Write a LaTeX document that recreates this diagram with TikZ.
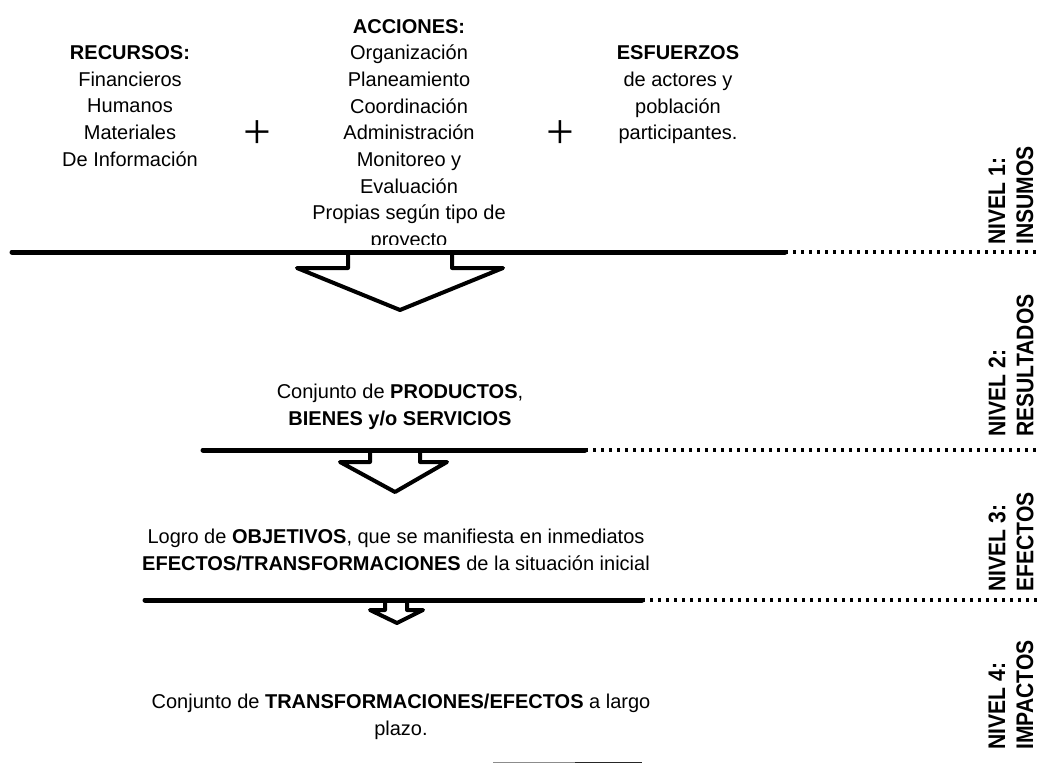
\documentclass[tikz,border=0pt]{standalone}
\usepackage{fontspec}
\setmainfont{Liberation Sans}
\newfontfamily\lvlfont[FakeStretch=0.88]{Liberation Sans}
\newfontfamily\plusfont{Liberation Serif}
\begin{document}
\begin{tikzpicture}[x=0.75pt,y=-0.75pt,
  txt/.style={align=center, inner sep=0pt, font=\fontsize{15}{20}\selectfont},
  lvl/.style={rotate=90, anchor=west, align=left, inner sep=0pt, font=\lvlfont\bfseries\fontsize{18}{21}\selectfont},
  solidln/.style={line width=3.75pt, line cap=round},
  dotln/.style={line width=2.6pt, dash pattern=on 2.2pt off 3.8pt},
  arrowshape/.style={line width=3pt, line join=round},
  plussign/.style={inner sep=0pt, font=\plusfont\fontsize{37}{37}\selectfont}]
\useasboundingbox (0,0) rectangle (1038,763);

% top blocks
\node[txt] (rec) at (130,106) {\textbf{RECURSOS:}\\Financieros\\Humanos\\Materiales\\De Información};
\node[plussign] (p1) at (257,135) {+};
\begin{scope}
\clip (290,0) rectangle (540,244);
\node[txt] (acc) at (409,135) {\textbf{ACCIONES:}\\Organización\\Planeamiento\\Coordinación\\Administración\\Monitoreo y\\Evaluación\\Propias según tipo de\\proyecto};
\end{scope}
\node[plussign] (p2) at (560,135) {+};
\node[txt] (esf) at (678,95) {\textbf{ESFUERZOS}\\de actores y\\población\\participantes.};

% line 1
\coordinate (l1a) at (12,252);
\coordinate (l1b) at (785,252);
\coordinate (l1c) at (1040,252);
\draw[solidln] (l1a) -- (l1b);
\draw[dotln] (l1b) -- (l1c);
\draw[arrowshape] (348,252) -- (348,268) -- (297,268) -- (400,310) -- (503,268) -- (452,268) -- (452,252);

% text 2
\node[txt] (res) at (400,407) {Conjunto de \textbf{PRODUCTOS},\\\textbf{BIENES y/o SERVICIOS}};

% line 2
\coordinate (l2a) at (203,450);
\coordinate (l2b) at (585,450);
\coordinate (l2c) at (1040,450);
\draw[solidln] (l2a) -- (l2b);
\draw[dotln] (l2b) -- (l2c);
\draw[arrowshape] (370,450) -- (370,462) -- (340,462) -- (395,492) -- (447,462) -- (420,462) -- (420,450);

% text 3
\node[txt] (efe) at (396,550) {Logro de \textbf{OBJETIVOS}, que se manifiesta en inmediatos\\\textbf{EFECTOS/TRANSFORMACIONES} de la situación inicial};

% line 3
\coordinate (l3a) at (145,600);
\coordinate (l3b) at (642,600);
\coordinate (l3c) at (1040,600);
\draw[solidln] (l3a) -- (l3b);
\draw[dotln] (l3b) -- (l3c);
\draw[arrowshape] (385,600) -- (385,610) -- (370,610) -- (397,623) -- (423,610) -- (407,610) -- (407,600);

% text 4
\node[txt] (imp) at (401,717) {Conjunto de \textbf{TRANSFORMACIONES/EFECTOS} a largo\\plazo.};

% bottom fragment
\begin{scope}
\clip (0,0) rectangle (1038,763);
\coordinate (l4a) at (493,764.5);
\coordinate (l4m) at (575,764.5);
\coordinate (l4b) at (642,764.5);
\coordinate (l4c) at (717,764.5);
\draw[line width=3.75pt, black!45] (l4a) -- (l4m);
\draw[line width=3.75pt, black!85] (l4m) -- (l4b);
\draw[dotln, black!40] (l4b) -- (l4c);
\end{scope}

% level labels
\node[lvl] (n1) at (1011,245) {NIVEL 1:\\INSUMOS};
\node[lvl] (n2) at (1011,437) {NIVEL 2:\\RESULTADOS};
\node[lvl] (n3) at (1011,592) {NIVEL 3:\\EFECTOS};
\node[lvl] (n4) at (1011,750) {NIVEL 4:\\IMPACTOS};
\end{tikzpicture}
\end{document}
